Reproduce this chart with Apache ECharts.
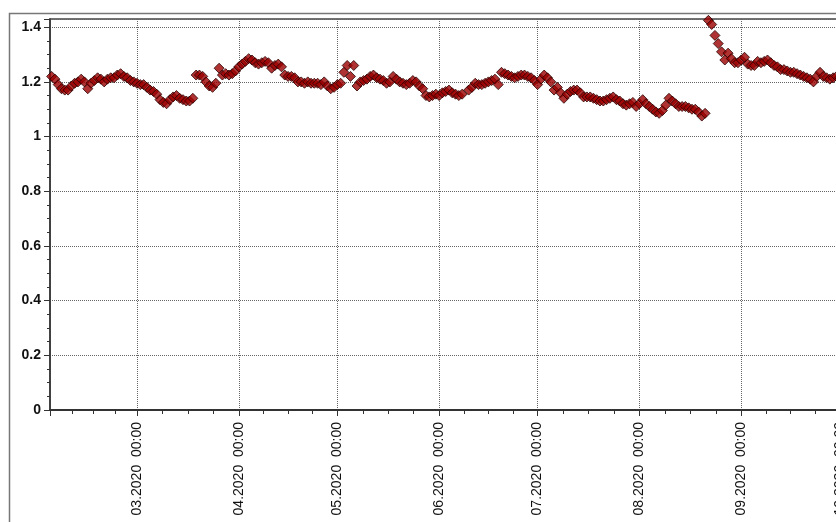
<!DOCTYPE html>
<html>
<head>
<meta charset="utf-8">
<script src="https://cdn.jsdelivr.net/npm/echarts@6.0.0/dist/echarts.min.js"></script>
<style>
  html, body { margin: 0; padding: 0; background: #fff; overflow: hidden; }
  /* the plot runs on past the right edge of the window, as in the picture */
  #chart { width: 850px; height: 522px; }
</style>
</head>
<body>
<div id="chart"></div>
<script>
// daily values, per month (first day given in the call below)
var feb = [1.22, 1.21, 1.19, 1.175, 1.17, 1.17, 1.185, 1.195, 1.20, 1.21, 1.20, 1.175, 1.195, 1.205, 1.215, 1.21, 1.20, 1.21, 1.215, 1.215, 1.225, 1.23, 1.22, 1.215, 1.205, 1.20];
var mar = [1.195, 1.19, 1.19, 1.18, 1.17, 1.165, 1.155, 1.135, 1.125, 1.12, 1.135, 1.145, 1.15, 1.14, 1.135, 1.13, 1.13, 1.14, 1.225, 1.225, 1.22, 1.20, 1.185, 1.18, 1.195, 1.25, 1.225, 1.23, 1.225, 1.23, 1.24];
var apr = [1.255, 1.265, 1.275, 1.285, 1.28, 1.27, 1.265, 1.27, 1.275, 1.27, 1.25, 1.26, 1.265, 1.255, 1.225, 1.22, 1.22, 1.215, 1.20, 1.20, 1.195, 1.20, 1.195, 1.195, 1.195, 1.19, 1.20, 1.185, 1.175, 1.18];
var may = [1.19, 1.195, 1.235, 1.26, 1.22, 1.26, 1.185, 1.20, 1.205, 1.21, 1.22, 1.225, 1.215, 1.21, 1.205, 1.195, 1.20, 1.22, 1.21, 1.20, 1.195, 1.19, 1.195, 1.205, 1.20, 1.185, 1.175, 1.15, 1.145, 1.15, 1.155];
var jun = [1.15, 1.16, 1.165, 1.17, 1.16, 1.155, 1.15, 1.155, null, 1.17, 1.18, 1.195, 1.19, 1.19, 1.195, 1.20, 1.205, 1.21, 1.19, 1.235, 1.23, 1.225, 1.22, 1.215, 1.22, 1.225, 1.225, 1.22, 1.215, 1.205];
var jul = [1.19, 1.21, 1.225, 1.215, 1.20, 1.17, 1.18, 1.16, 1.14, 1.155, 1.165, 1.17, 1.17, 1.16, 1.145, 1.145, 1.145, 1.14, 1.135, 1.13, 1.13, 1.135, 1.14, 1.145, 1.135, 1.13, 1.12, 1.115, 1.12, 1.125, 1.11];
var aug = [1.12, 1.135, 1.12, 1.11, 1.10, 1.09, 1.085, 1.095, 1.115, 1.14, 1.13, 1.12, 1.11, 1.11, 1.11, 1.105, 1.10, 1.10, 1.09, 1.075, 1.085, 1.425, 1.41, 1.37, 1.34, 1.31, 1.28, 1.305, 1.285, 1.27, 1.27];
var sep = [1.28, 1.29, 1.265, 1.26, 1.26, 1.275, 1.27, 1.275, 1.28, 1.27, 1.26, 1.255, 1.245, 1.245, 1.24, 1.235, 1.235, 1.23, 1.225, 1.22, 1.215, 1.21, 1.20, 1.22, 1.235, 1.22, 1.215, 1.21, 1.215, 1.22];
var oct = [1.215, 1.21, 1.21, 1.205];

function pad(n) { return (n < 10 ? '0' : '') + n; }

function monthPoints(month, firstDay, values) {
	return values.map(function (v, i) {
		return [new Date(2020, month, firstDay + i).getTime(), v == null ? '-' : v];
	});
}

var points = [].concat(
	monthPoints(1, 4, feb),
	monthPoints(2, 1, mar),
	monthPoints(3, 1, apr),
	monthPoints(4, 1, may),
	monthPoints(5, 1, jun),
	monthPoints(6, 1, jul),
	monthPoints(7, 1, aug),
	monthPoints(8, 1, sep),
	monthPoints(9, 1, oct)
);

var chart = echarts.init(document.getElementById('chart'));

var gridLine = { show: true, lineStyle: { color: '#666', width: 1, type: [1, 1] } };

chart.setOption({
	backgroundColor: '#fff',
	animation: false,
	grid: {
		left: 50, top: 19, right: 0, bottom: 112,
		show: true, borderColor: '#444', borderWidth: 1.5, backgroundColor: '#fff'
	},
	graphic: [{
		type: 'rect',
		silent: true,
		z: -1,
		shape: { x: 9.5, y: 13.5, width: 900, height: 600 },
		style: { fill: null, stroke: '#777', lineWidth: 1.5 }
	}],
	xAxis: {
		type: 'time',
		min: new Date(2020, 1, 3, 12).getTime(),
		max: new Date(2020, 9, 4, 3).getTime(),
		splitNumber: 8,
		maxInterval: 31 * 24 * 3600 * 1000,
		axisLine: { show: true, onZero: false, lineStyle: { color: '#333', width: 2 } },
		axisTick: { show: true, length: 6, lineStyle: { color: '#333', width: 1 } },
		minorTick: { show: true, splitNumber: 4, length: 4, lineStyle: { color: '#333' } },
		splitLine: gridLine,
		axisLabel: {
			rotate: 90,
			margin: 12,
			showMinLabel: false,
			showMaxLabel: false,
			hideOverlap: false,
			color: '#111',
			fontFamily: 'Liberation Sans, Arial, sans-serif',
			fontSize: 14,
			formatter: function (v) {
				var d = new Date(v);
				return pad(d.getMonth() + 1) + '.' + d.getFullYear() + '  ' + pad(d.getHours()) + ':' + pad(d.getMinutes());
			}
		}
	},
	yAxis: {
		type: 'value',
		min: 0,
		max: 1.43,
		interval: 0.2,
		axisLine: { show: true, lineStyle: { color: '#333', width: 1.5 } },
		axisTick: { show: true, length: 6, lineStyle: { color: '#333' } },
		minorTick: { show: true, splitNumber: 4, length: 3, lineStyle: { color: '#333' } },
		splitLine: gridLine,
		axisLabel: {
			margin: 9,
			showMaxLabel: false,
			color: '#111',
			fontFamily: 'Liberation Sans, Arial, sans-serif',
			fontSize: 14,
			fontWeight: 'bold'
		}
	},
	series: [{
		type: 'scatter',
		data: points,
		symbol: 'diamond',
		symbolSize: 10,
		itemStyle: { color: '#9c0000', borderColor: '#2a0000', borderWidth: 1 }
	}]
});
</script>
</body>
</html>
